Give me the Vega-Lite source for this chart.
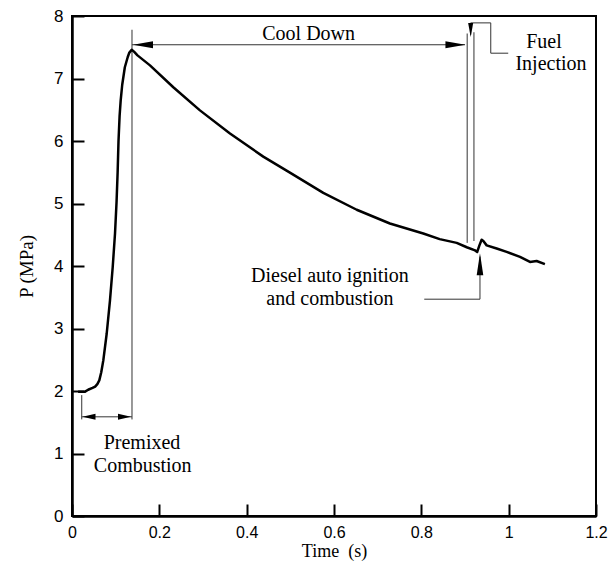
{
  "$schema": "https://vega.github.io/schema/vega-lite/v6.json",
  "width": 524,
  "height": 500,
  "autosize": "none",
  "padding": {"left": 72, "top": 16, "right": 20, "bottom": 45},
  "background": "white",
  "config": {
    "view": {"stroke": "black", "strokeWidth": 2},
    "axis": {
      "grid": false,
      "tickSize": -12,
      "tickWidth": 2,
      "tickColor": "black",
      "domainWidth": 2.5,
      "domainColor": "black",
      "labelFont": "Liberation Sans",
      "labelFontSize": 17,
      "labelColor": "black",
      "labelPadding": 21,
      "labelFlush": false,
      "labelOverlap": false,
      "titleFont": "Liberation Serif",
      "titleFontSize": 19,
      "titleFontWeight": "normal",
      "titleColor": "black"
    }
  },
  "datasets": {
    "curve": [
      {"t": 0.014, "P": 1.99}, {"t": 0.030, "P": 1.99}, {"t": 0.037, "P": 2.02},
      {"t": 0.047, "P": 2.05}, {"t": 0.053, "P": 2.07}, {"t": 0.058, "P": 2.11},
      {"t": 0.0625, "P": 2.17}, {"t": 0.067, "P": 2.30}, {"t": 0.0717, "P": 2.49},
      {"t": 0.0795, "P": 2.92}, {"t": 0.087, "P": 3.45}, {"t": 0.0932, "P": 3.98},
      {"t": 0.0985, "P": 4.52}, {"t": 0.102, "P": 5.02}, {"t": 0.1045, "P": 5.5},
      {"t": 0.1065, "P": 6.0}, {"t": 0.109, "P": 6.4}, {"t": 0.1115, "P": 6.65},
      {"t": 0.115, "P": 6.9}, {"t": 0.121, "P": 7.18}, {"t": 0.1275, "P": 7.34},
      {"t": 0.131, "P": 7.41}, {"t": 0.1367, "P": 7.46}, {"t": 0.142, "P": 7.43},
      {"t": 0.150, "P": 7.37}, {"t": 0.1786, "P": 7.21}, {"t": 0.232, "P": 6.86},
      {"t": 0.293, "P": 6.49}, {"t": 0.3618, "P": 6.12}, {"t": 0.438, "P": 5.75},
      {"t": 0.5, "P": 5.49}, {"t": 0.5755, "P": 5.17}, {"t": 0.652, "P": 4.90},
      {"t": 0.728, "P": 4.68}, {"t": 0.8045, "P": 4.52}, {"t": 0.842, "P": 4.43},
      {"t": 0.881, "P": 4.37}, {"t": 0.904, "P": 4.30}, {"t": 0.923, "P": 4.25},
      {"t": 0.928, "P": 4.225}, {"t": 0.933, "P": 4.33}, {"t": 0.9381, "P": 4.42},
      {"t": 0.942, "P": 4.40}, {"t": 0.9496, "P": 4.33}, {"t": 0.9725, "P": 4.28},
      {"t": 0.9954, "P": 4.225}, {"t": 1.026, "P": 4.145}, {"t": 1.0488, "P": 4.065},
      {"t": 1.064, "P": 4.08}, {"t": 1.083, "P": 4.03}
    ],
    "segments": [
      {"t": 0.1374, "t2": 0.1374, "P": 1.545, "P2": 7.78},
      {"t": 0.1374, "t2": 0.900, "P": 7.54, "P2": 7.54},
      {"t": 0.905, "t2": 0.905, "P": 4.37, "P2": 7.72},
      {"t": 0.9205, "t2": 0.9205, "P": 4.40, "P2": 7.74},
      {"t": 0.913, "t2": 0.913, "P": 7.89, "P2": 7.70},
      {"t": 0.913, "t2": 0.959, "P": 7.89, "P2": 7.89},
      {"t": 0.959, "t2": 0.959, "P": 7.89, "P2": 7.405},
      {"t": 0.959, "t2": 0.999, "P": 7.405, "P2": 7.405},
      {"t": 0.9343, "t2": 0.9343, "P": 3.469, "P2": 4.15},
      {"t": 0.8067, "t2": 0.9343, "P": 3.469, "P2": 3.469},
      {"t": 0.0223, "t2": 0.0223, "P": 1.546, "P2": 1.934},
      {"t": 0.0223, "t2": 0.1374, "P": 1.587, "P2": 1.587}
    ],
    "arrows": [
      {"name": "cool-left", "t": 0.1397, "P": 7.54},
      {"name": "cool-right", "t": 0.901, "P": 7.54},
      {"name": "pre-left", "t": 0.024, "P": 1.587},
      {"name": "pre-right", "t": 0.1351, "P": 1.587},
      {"name": "fuel-down", "t": 0.913, "P": 7.665},
      {"name": "diesel-up", "t": 0.9343, "P": 4.204}
    ],
    "labels": [
      {"text": "Cool Down", "t": 0.5419, "P": 7.72},
      {"text": "Fuel", "t": 1.0808, "P": 7.59},
      {"text": "Injection", "t": 1.0969, "P": 7.24},
      {"text": "Diesel auto ignition", "t": 0.5908, "P": 3.836},
      {"text": "and combustion", "t": 0.5908, "P": 3.469},
      {"text": "Premixed", "t": 0.1603, "P": 1.167},
      {"text": "Combustion", "t": 0.1619, "P": 0.80}
    ]
  },
  "encoding": {
    "x": {
      "field": "t",
      "type": "quantitative",
      "scale": {"domain": [0, 1.2], "nice": false, "zero": false},
      "axis": {"values": [0, 0.2, 0.4, 0.6, 0.8, 1, 1.2], "format": "~g", "title": "Time\u00a0\u00a0(s)", "titlePadding": 2, "titleFontSize": 18, "labelFontSize": 16, "labelPadding": 20}
    },
    "y": {
      "field": "P",
      "type": "quantitative",
      "scale": {"domain": [0, 8], "nice": false, "zero": false},
      "axis": {"values": [0, 1, 2, 3, 4, 5, 6, 7, 8], "format": "d", "title": "P (MPa)", "titlePadding": 17}
    }
  },
  "layer": [
    {
      "data": {"name": "segments"},
      "mark": {"type": "rule", "color": "#333333", "strokeWidth": 1},
      "encoding": {"x2": {"field": "t2"}, "y2": {"field": "P2"}}
    },
    {
      "data": {"name": "curve"},
      "mark": {"type": "line", "color": "black", "strokeWidth": 2.5, "strokeJoin": "round"}
    },
    {
      "data": {"name": "arrows"},
      "transform": [{"filter": "datum.name === 'cool-left'"}],
      "mark": {"type": "point", "filled": true, "color": "black", "opacity": 1, "size": 400, "shape": "M 0 0 L 2 -0.35 L 2 0.35 Z"}
    },
    {
      "data": {"name": "arrows"},
      "transform": [{"filter": "datum.name === 'cool-right'"}],
      "mark": {"type": "point", "filled": true, "color": "black", "opacity": 1, "size": 400, "shape": "M 0 0 L -2 -0.35 L -2 0.35 Z"}
    },
    {
      "data": {"name": "arrows"},
      "transform": [{"filter": "datum.name === 'pre-left'"}],
      "mark": {"type": "point", "filled": true, "color": "black", "opacity": 1, "size": 169, "shape": "M 0 0 L 2 -0.46 L 2 0.46 Z"}
    },
    {
      "data": {"name": "arrows"},
      "transform": [{"filter": "datum.name === 'pre-right'"}],
      "mark": {"type": "point", "filled": true, "color": "black", "opacity": 1, "size": 169, "shape": "M 0 0 L -2 -0.46 L -2 0.46 Z"}
    },
    {
      "data": {"name": "arrows"},
      "transform": [{"filter": "datum.name === 'fuel-down'"}],
      "mark": {"type": "point", "filled": true, "color": "black", "opacity": 1, "size": 196, "shape": "M 0 0 L -0.36 -2 L 0.36 -2 Z"}
    },
    {
      "data": {"name": "arrows"},
      "transform": [{"filter": "datum.name === 'diesel-up'"}],
      "mark": {"type": "point", "filled": true, "color": "black", "opacity": 1, "size": 484, "shape": "M 0 0 L -0.3 2 L 0.3 2 Z"}
    },
    {
      "data": {"name": "labels"},
      "mark": {"type": "text", "font": "Liberation Serif", "fontSize": 20, "color": "black", "align": "center", "baseline": "middle"},
      "encoding": {"text": {"field": "text"}}
    }
  ]
}
